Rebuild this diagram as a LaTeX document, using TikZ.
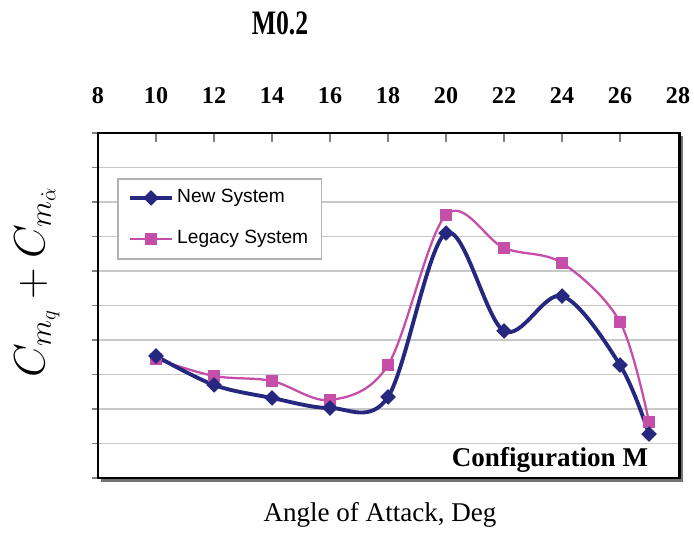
\documentclass[tikz,border=0pt]{standalone}
\usepackage{fontspec}
\setmainfont{Liberation Serif}
\newfontfamily\legendfont{Liberation Sans}
\usetikzlibrary{shapes.geometric,positioning}

\definecolor{newblue}{RGB}{38,40,128}
\definecolor{legacypink}{RGB}{196,78,168}
\definecolor{gridgray}{RGB}{200,200,200}

\tikzset{
  newline/.style={newblue, line width=2.2pt, line join=round},
  legacyline/.style={legacypink, line width=1.3pt, line join=round},
  newmark/.style={diamond, aspect=1, fill=newblue, inner sep=0pt, minimum size=9pt},
  legacymark/.style={rectangle, fill=legacypink, inner sep=0pt, minimum size=6.8pt},
  ticklabel/.style={font=\fontsize{13.7}{16}\selectfont\bfseries},
  legendtext/.style={font=\legendfont\fontsize{10.9}{13}\selectfont, anchor=west, inner sep=0pt}
}

\begin{document}
\begin{tikzpicture}[x=0.58cm, y=0.69cm]

\useasboundingbox (4.6207,-1.594) rectangle (28.552,13.855);

% grid and ticks
\foreach \g in {1,...,9}
  \draw[gridgray, line width=0.7pt] (8,\g) -- (28.05,\g);
\foreach \g in {0,...,10}
  \draw[gray, line width=0.6pt] (7.78,\g) -- (8,\g);
\foreach \a in {10,12,...,26}
  \draw[gray, line width=0.6pt] (\a,10) -- (\a,9.74);
\foreach \a in {8,10,...,28}
  \node[ticklabel] (tick\a) at (\a,11.087) {\a};

% frame
\draw[black!55, line width=1.4pt] (8.1,-0.07) -- (28.12,-0.07) -- (28.12,9.92);
\draw[line width=1.3pt] (8,0) rectangle (28.05,10);

% data points
\foreach \a/\g [count=\i] in {10/3.536, 12/2.696, 14/2.319, 16/2.029, 18/2.348,
    20/7.101, 22/4.261, 24/5.275, 26/3.275, 27/1.275}
  \coordinate (new\i) at (\a,\g);
\foreach \a/\g [count=\i] in {10/3.449, 12/2.957, 14/2.812, 16/2.261, 18/3.275,
    20/7.623, 22/6.667, 24/6.232, 26/4.522, 27/1.623}
  \coordinate (old\i) at (\a,\g);

\draw[legacyline] plot[smooth, tension=0.55] coordinates
  {(old1) (old2) (old3) (old4) (old5) (old6) (old7) (old8) (old9) (old10)};
\draw[newline] plot[smooth, tension=0.55] coordinates
  {(new1) (new2) (new3) (new4) (new5) (new6) (new7) (new8) (new9) (new10)};

\foreach \i in {1,...,10}
  \node[legacymark] (oldmark\i) at (old\i) {};
\foreach \i in {1,...,10}
  \node[newmark] (newmark\i) at (new\i) {};

% legend
\node[draw=gray!60, fill=white, line width=0.6pt, minimum width=4.077cm, minimum height=1.6cm] (legend) at (12.205,7.5075) {};
\coordinate (newa) at (9.103,8.116);
\coordinate (newb) at (10.552,8.116);
\coordinate (olda) at (9.103,6.928);
\coordinate (oldb) at (10.552,6.928);
\draw[newline] (newa) -- (newb);
\draw[legacyline] (olda) -- (oldb);
\node[newmark] (newkey) at (9.828,8.116) {};
\node[legacymark] (oldkey) at (9.828,6.928) {};
\node[legendtext] (newtext) at (10.72,8.116) {New System};
\node[legendtext] (oldtext) at (10.72,6.928) {Legacy System};

% labels
\node[font=\fontsize{19.5}{22}\selectfont\bfseries] (title) at (14.276,13.188) {\scalebox{0.75}[1]{M0.2}};
\node[font=\fontsize{15.4}{18}\selectfont] (xlabel) at (17.724,-1.072) {Angle of Attack, Deg};
\node[font=\fontsize{15.4}{18}\selectfont\bfseries] (config) at (23.586,0.522) {Configuration M};
\node[rotate=90, font=\fontsize{24}{28}\selectfont] (ylabel) at (5.897,5.681) {$C_{m_q} + C_{m_{\dot\alpha}}$};

\end{tikzpicture}
\end{document}
